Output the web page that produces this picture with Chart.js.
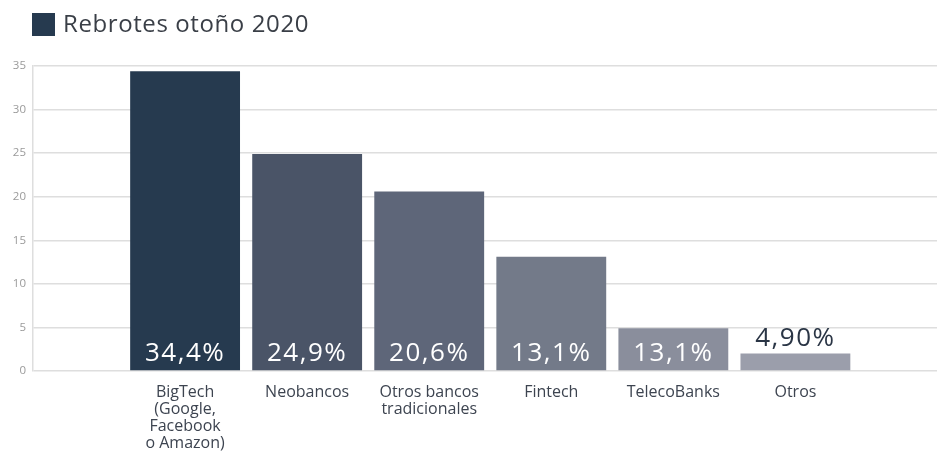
<!DOCTYPE html>
<html>
<head>
<meta charset="utf-8">
<script src="https://cdn.jsdelivr.net/npm/chart.js@4/dist/chart.umd.min.js"></script>
<style>
    html, body { margin: 0; padding: 0; background: #ffffff; }
    #wrap { width: 937px; height: 453px; }
</style>
</head>
<body>
<div id="wrap"><canvas id="graphRebrotes"></canvas></div>
<script>
//Rebrotes otoño 2020 - données
var serie_Label = 'Rebrotes otoño 2020';
var tab_Categories = [
    ['BigTech', '(Google,', 'Facebook', 'o Amazon)'],
    'Neobancos',
    ['Otros bancos', 'tradicionales'],
    'Fintech',
    'TelecoBanks',
    'Otros'
];
var tab_Valeurs = [34.4, 24.9, 20.6, 13.1, 4.9, 2.0];
var tab_Etiquettes = ['34,4%', '24,9%', '20,6%', '13,1%', '13,1%', '4,90%'];
var tab_Couleurs = ['#263a4f', '#4a5467', '#5e6679', '#737a89', '#8a8e9c', '#9b9eab'];
var tab_TicksY = [0, 5, 10, 15, 20, 25, 30, 35];

var police = "'Open Sans', 'DejaVu Sans', sans-serif";

//Titre façon légende : carré + libellé
var pluginTitre = {
    id: 'titreCarre',
    afterDraw: function (chart) {
        var ctx = chart.ctx;
        ctx.save();
        ctx.fillStyle = tab_Couleurs[0];
        ctx.fillRect(32, 13, 23, 23);
        ctx.fillStyle = '#3a3f47';
        ctx.font = '24px ' + police;
        ctx.letterSpacing = '0.6px';
        ctx.textAlign = 'left';
        ctx.textBaseline = 'middle';
        ctx.fillText(chart.data.datasets[0].label, 63, 25);
        ctx.restore();
    }
};

//Etiquettes dans les barres (la dernière au-dessus)
var pluginEtiquettes = {
    id: 'etiquettesBarres',
    afterDatasetsDraw: function (chart) {
        var ctx = chart.ctx;
        var meta = chart.getDatasetMeta(0);
        ctx.save();
        ctx.font = '500 26px ' + police;
        ctx.letterSpacing = '1.5px';
        ctx.textAlign = 'center';
        ctx.textBaseline = 'alphabetic';
        meta.data.forEach(function (bar, i) {
            var txt = tab_Etiquettes[i];
            if (i === meta.data.length - 1) {
                ctx.fillStyle = '#2a3545';
                ctx.fillText(txt, bar.x, bar.y - 8);
            } else {
                ctx.fillStyle = '#ffffff';
                ctx.fillText(txt, bar.x, bar.base - 9);
            }
        });
        ctx.restore();
    }
};

function DisplayGraphRebrotes(graphId) {
    var ctx = document.getElementById(graphId).getContext('2d');
    var chart = new Chart(ctx, {
        type: 'bar',
        data: {
            datasets: [{
                label: serie_Label,
                data: tab_Valeurs.map(function (v, i) { return { x: i, y: v }; }),
                backgroundColor: tab_Couleurs,
                barPercentage: 0.9,
                categoryPercentage: 1.0,
                borderWidth: 0
            }]
        },
        options: {
            responsive: true,
            maintainAspectRatio: false,
            animation: false,
            layout: {
                padding: { top: 66, left: 0, right: 0, bottom: 0 }
            },
            plugins: {
                legend: { display: false },
                tooltip: { enabled: false }
            },
            scales: {
                x: {
                    type: 'linear',
                    offset: false,
                    min: -1.246,
                    max: 6.16,
                    afterBuildTicks: function (scale) {
                        scale.ticks = tab_Categories.map(function (c, i) { return { value: i }; });
                    },
                    afterFit: function (scale) {
                        scale.height = 82;
                    },
                    grid: { display: false, drawTicks: false },
                    border: { display: false },
                    ticks: {
                        autoSkip: false,
                        maxRotation: 0,
                        padding: 13,
                        color: '#3d4450',
                        font: { family: police, size: 16, lineHeight: 1.06 },
                        callback: function (value) {
                            return tab_Categories[value];
                        }
                    }
                },
                y: {
                    min: 0,
                    max: 35,
                    afterBuildTicks: function (scale) {
                        scale.ticks = tab_TicksY.map(function (v) { return { value: v }; });
                    },
                    afterFit: function (scale) {
                        scale.width = 33;
                    },
                    grid: {
                        color: '#dedede',
                        lineWidth: 1.5,
                        drawTicks: false
                    },
                    border: { display: true, color: '#dedede', width: 1.5 },
                    ticks: {
                        padding: 7,
                        color: '#9a9a9a',
                        font: { family: police, size: 11.5 }
                    }
                }
            }
        },
        plugins: [pluginTitre, pluginEtiquettes]
    });
    return chart;
}

DisplayGraphRebrotes('graphRebrotes');
</script>
</body>
</html>
